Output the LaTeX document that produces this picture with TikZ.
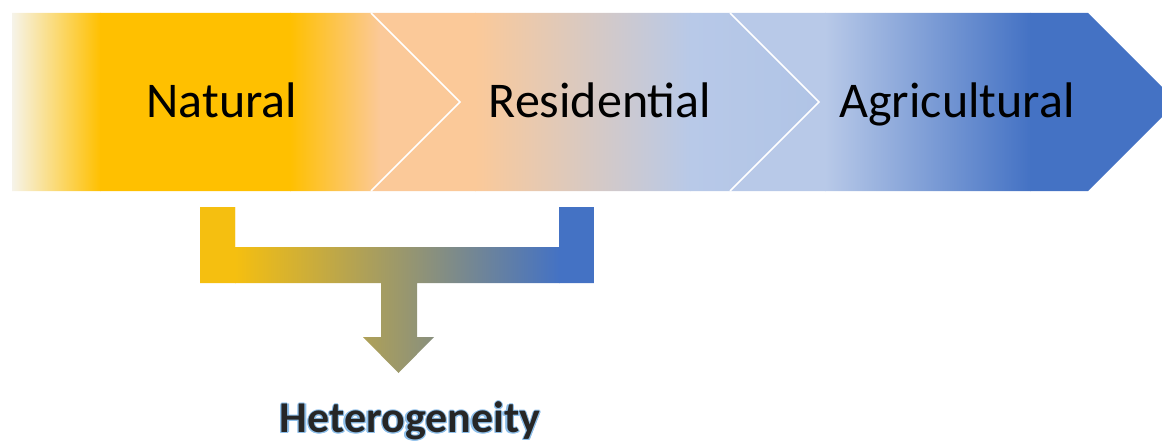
\documentclass[tikz,border=0pt]{standalone}
\usepackage{fontspec}
\setmainfont{Carlito}
\definecolor{cwhite}{HTML}{F6F4EC}
\definecolor{gold}{HTML}{FFC000}
\definecolor{peach}{HTML}{FBC999}
\definecolor{lblue}{HTML}{B8C9E8}
\definecolor{lblueb}{HTML}{B0C4E6}
\definecolor{blue}{HTML}{4472C4}
\definecolor{bgold}{HTML}{F5BF10}
\definecolor{txtgray}{HTML}{262626}
\definecolor{glow}{HTML}{8EBFEA}
\tikzset{
  lab/.style={font=\fontsize{50}{60}\selectfont, anchor=base, text=black, inner sep=0pt},
  het/.style={font=\fontsize{44}{50}\selectfont\bfseries, anchor=base, text=txtgray, inner sep=0pt},
  sep/.style={draw=white, line width=1.5pt, line join=miter},
}
\begin{document}
\begin{tikzpicture}[x=1pt,y=-1pt]
\useasboundingbox (0,0) rectangle (1162,441);
% chevron 1
\begin{scope}
\clip (12,13) -- (371,13) -- (460,102) -- (371,191) -- (12,191) -- cycle;
\shade[left color=cwhite,right color=gold] (11,12) rectangle (100.5,192);
\fill[gold] (100,12) rectangle (290.5,192);
\shade[left color=gold,right color=peach] (290,12) rectangle (380.5,192);
\fill[peach] (380,12) rectangle (461,192);
\end{scope}
% chevron 2
\begin{scope}
\clip (371,13) -- (730,13) -- (819,102) -- (730,191) -- (371,191) -- (460,102) -- cycle;
\fill[peach] (370,12) rectangle (475.5,192);
\shade[left color=peach,right color=lblue] (475,12) rectangle (690.5,192);
\shade[left color=lblue,right color=lblueb] (690,12) rectangle (820,192);
\end{scope}
% chevron 3
\begin{scope}
\clip (730,13) -- (1088,13) -- (1177,102) -- (1088,191) -- (730,191) -- (819,102) -- cycle;
\fill[lblue] (729,12) rectangle (825.5,192);
\shade[left color=lblue,right color=blue] (825,12) rectangle (1030.5,192);
\fill[blue] (1030,12) rectangle (1178,192);
\end{scope}
\draw[sep] (371,13) -- (460,102) -- (371,191);
\draw[sep] (730,13) -- (819,102) -- (730,191);
% labels
\node[lab] (nat) at (222,118) {Natural};
\node[lab] (res) at (600,118) {Residential};
\node[lab] (agr) at (957,118) {Agricultural};
% bracket with arrow
\begin{scope}
\clip (200,207) -- (235,207) -- (235,247) -- (559,247) -- (559,207) -- (594,207)
  -- (594,283) -- (417,283) -- (417,337) -- (434,337) -- (398.5,373) -- (363,337)
  -- (381,337) -- (381,283) -- (200,283) -- cycle;
\fill[bgold] (199,206) rectangle (235.5,374);
\shade[left color=bgold,right color=blue] (235,206) rectangle (559.5,374);
\fill[blue] (559,206) rectangle (595,374);
\end{scope}
% heterogeneity text with glow
\foreach \dx/\dy [count=\i] in {-1.2/1.0, 1.2/1.0, 0/1.8, -0.9/1.8, 0.9/1.8, 0/-0.5, -1.3/0, 1.3/0}
  \node[het, text=glow] (glow\i) at (410+\dx,432+\dy) {Heterogeneity};
\node[het] (het) at (410,432) {Heterogeneity};
\end{tikzpicture}
\end{document}
